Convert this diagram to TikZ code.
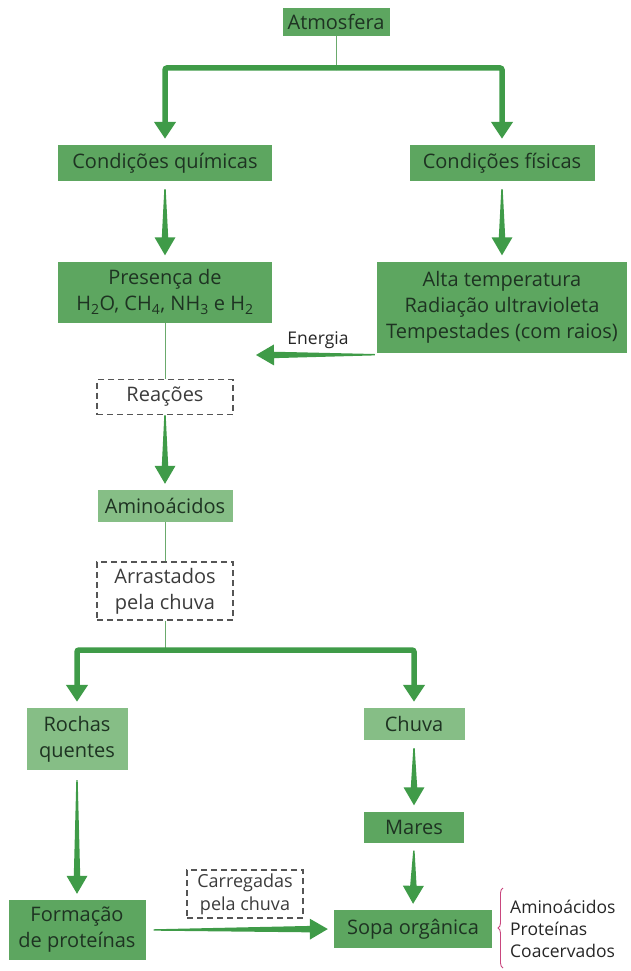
\documentclass[tikz,border=0pt]{standalone}
\usepackage{fontspec}
\setmainfont{Open Sans}
\usetikzlibrary{calc,positioning,arrows.meta,decorations.pathreplacing}
\definecolor{boxgreen}{HTML}{5DA660}
\definecolor{boxlight}{HTML}{86BE86}
\definecolor{arrowgreen}{HTML}{3F9B48}
\definecolor{linkgreen}{HTML}{6AAA6C}
\definecolor{textdark}{HTML}{1E3322}
\definecolor{dashgray}{HTML}{555555}
\definecolor{bracepink}{HTML}{C9467E}

\tikzset{
  greenbox/.style={fill=boxgreen, text=textdark, align=center, inner sep=0pt,
    font=\fontsize{20}{26}\selectfont},
  lightbox/.style={greenbox, fill=boxlight},
  dashbox/.style={draw=dashgray, line width=1.2pt, dash pattern=on 6pt off 4pt,
    text=dashgray!70!black, align=center, inner sep=0pt,
    font=\fontsize{20}{26}\selectfont},
  smalltext/.style={text=black!85, align=left, inner sep=0pt,
    font=\fontsize{17.5}{22}\selectfont},
  link/.style={draw=linkgreen, line width=1pt},
  branch/.style={draw=arrowgreen, line width=5.5pt, rounded corners=2pt,
    -{Triangle[length=17pt,width=21pt]}, shorten >=6pt},
}

% tapered arrow: \taparrow[gap at start]{from}{to}
\newcommand{\taparrow}[3][8pt]{%
  \coordinate (tpA) at ($(#2)!#1!(#3)$);
  \coordinate (tpB) at ($(#3)!6pt!(#2)$);
  \coordinate (tpC) at ($(tpB)!18pt!(tpA)$);
  \fill[arrowgreen] ($(tpA)!0.7pt!90:(tpB)$) -- ($(tpC)!3.2pt!90:(tpB)$)
    -- ($(tpC)!10.5pt!90:(tpB)$) -- (tpB) -- ($(tpC)!10.5pt!-90:(tpB)$)
    -- ($(tpC)!3.2pt!-90:(tpB)$) -- ($(tpA)!0.7pt!-90:(tpB)$) -- cycle;
}

\begin{document}
\begin{tikzpicture}[x=1pt,y=-1pt]
  \useasboundingbox (0,0) rectangle (630,971);

  % upper half
  \node[greenbox, minimum width=107, minimum height=28] (atm) at (336,22) {Atmosfera};
  \node[greenbox, minimum width=214, minimum height=36] (quim) at (165,163) {Condições químicas};
  \node[greenbox, minimum width=185, minimum height=36] (fis) at (502,163) {Condições físicas};
  \node[greenbox, minimum width=214, minimum height=61] (pres) at (165,292)
    {Presença de\\H\textsubscript{2}O, CH\textsubscript{4}, NH\textsubscript{3} e H\textsubscript{2}};
  \node[greenbox, minimum width=250, minimum height=91] (alta) at (502,307)
    {Alta temperatura\\Radiação ultravioleta\\Tempestades (com raios)};
  \node[smalltext] (energia) at (318,340) {Energia};
  \node[dashbox, minimum width=136, minimum height=35] (reac) at (165,397) {Reações};
  \node[lightbox, minimum width=135, minimum height=32] (amino) at (165,506) {Aminoácidos};
  \node[dashbox, minimum width=136, minimum height=58] (arr) at (165,591) {Arrastados\\pela chuva};

  % lower half
  \node[lightbox, minimum width=101, minimum height=62] (rochas) at (77,739) {Rochas\\quentes};
  \node[lightbox, minimum width=101, minimum height=32] (chuva) at (414,724) {Chuva};
  \node[greenbox, minimum width=100, minimum height=31] (mares) at (414,827) {Mares};
  \node[greenbox, minimum width=158, minimum height=38] (sopa) at (413,929) {Sopa orgânica};
  \node[greenbox, minimum width=137, minimum height=60] (form) at (77,930) {Formação\\de proteínas};
  \node[dashbox, minimum width=116, minimum height=48,
    font=\fontsize{18}{23}\selectfont] (carr) at (245,894) {Carregadas\\pela chuva};
  \node[smalltext, anchor=west] (lista) at (510,929) {Aminoácidos\\Proteínas\\Coacervados};

  \coordinate (split1) at (336,68);
  \coordinate (split2) at (165,650);
  \coordinate (enA) at ($(alta.south west)+(-2,2)$);
  \coordinate (enB) at (250,355);

  % connectors
  \draw[link] (atm.south) -- (split1);
  \draw[branch] (split1) -| (quim.north);
  \draw[branch] (split1) -| (fis.north);
  \taparrow{quim.south}{pres.north}
  \taparrow{fis.south}{alta.north}
  \taparrow[0pt]{enA}{enB}
  \draw[link] (pres.south) -- (reac.north);
  \taparrow[0pt]{reac.south}{amino.north}
  \draw[link] (amino.south) -- (arr.north);
  \draw[link] (arr.south) -- (split2);
  \draw[branch] (split2) -| (rochas.north);
  \draw[branch] (split2) -| (chuva.north);
  \taparrow{chuva.south}{mares.north}
  \taparrow{mares.south}{sopa.north}
  \taparrow[10pt]{rochas.south}{form.north}
  \taparrow{form.east}{sopa.west}

  \draw[bracepink, line width=0.9pt, decorate, decoration={brace, amplitude=5pt}]
    (503,968) -- (503,888);
\end{tikzpicture}
\end{document}
